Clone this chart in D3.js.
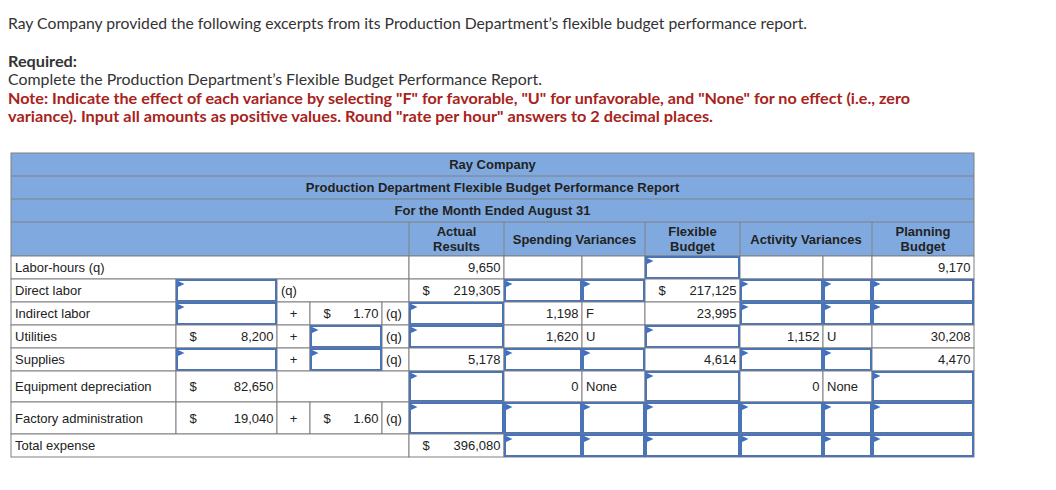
<!DOCTYPE html>
<meta charset="utf-8">
<script src="https://d3js.org/d3.v7.min.js"></script>
<style>
    body { margin: 0; background: #fff; }
    text { font-family: "Liberation Sans", Arial, sans-serif; fill: #222; }
    .intro { font-family: Lato, "Open Sans", sans-serif; font-size: 15.7px; fill: #333; }
    .note { font-weight: bold; font-size: 16px; fill: #a8231c; }
    .head { font-weight: bold; font-size: 13px; }
    .cell { font-size: 13px; }
</style>
<div id="report"></div>
<script>
// ---- data ----
var rowLabels = ["Labor-hours (q)", "Direct labor", "Indirect labor", "Utilities", "Supplies",
                 "Equipment depreciation", "Factory administration", "Total expense"];
// null = answer box, "" = not used
var fixedCost      = ["", null, null, 8200, null, 82650, 19040, ""];
var perHour        = [false, true, true, true, true, false, true, false];
var variableRate   = ["", "", 1.70, null, null, "", 1.60, ""];
var actualResults  = [9650, 219305, null, null, 5178, null, null, 396080];
var spendingVar    = ["", null, 1198, 1620, null, 0, null, null];
var spendingEffect = ["", null, "F", "U", null, "None", null, null];
var flexibleBudget = [null, 217125, 23995, null, 4614, null, null, null];
var activityVar    = ["", null, null, 1152, null, 0, null, null];
var activityEffect = ["", null, null, "U", null, "None", null, null];
var planningBudget = [9170, null, null, 30208, 4470, null, null, null];
var dollarRows     = [1, 7];

var titleLines = ["Ray Company", "Production Department Flexible Budget Performance Report", "For the Month Ended August 31"];
var colHeads = [["Actual", "Results"], ["Spending Variances"], ["Flexible", "Budget"], ["Activity Variances"], ["Planning", "Budget"]];

// ---- layout ----
var colEdges = [11, 176, 277, 310, 382, 409, 504, 582, 645, 740, 823, 872, 974];
var headEdges = [153, 176, 199, 222, 256];
var rowEdges = [256, 279, 302, 325, 348, 371, 402, 434, 457];
var headSpans = [[5, 6], [6, 8], [8, 9], [9, 11], [11, 12]];

var grid = "#808080", blue = "#4a74b6", headFill = "#80aadf";

var svg = d3.select("#report").append("svg")
    .attr("width", 1056).attr("height", 490);

// intro text (widths fitted to the reference)
var introLines = [
    {y: 29, w: 799, cls: "intro", t: "Ray Company provided the following excerpts from its Production Department\u2019s flexible budget performance report."},
    {y: 67, w: 69, cls: "intro", bold: true, t: "Required:"},
    {y: 85, w: 534, cls: "intro", t: "Complete the Production Department\u2019s Flexible Budget Performance Report."},
    {y: 104, w: 902, cls: "intro note", t: "Note: Indicate the effect of each variance by selecting \"F\" for favorable, \"U\" for unfavorable, and \"None\" for no effect (i.e., zero"},
    {y: 122, w: 705, cls: "intro note", t: "variance). Input all amounts as positive values. Round \"rate per hour\" answers to 2 decimal places."}
];
svg.append("g").selectAll("text").data(introLines).join("text")
    .attr("class", d => d.cls).attr("x", 8).attr("y", d => d.y)
    .style("font-weight", d => d.bold ? "bold" : null)
    .attr("textLength", d => d.w).attr("lengthAdjust", "spacingAndGlyphs")
    .text(d => d.t);

var x = function(i) { return colEdges[i]; };
var fmt = d3.format(","), fmtRate = d3.format(".2f");

// header block
var head = svg.append("g");
head.append("rect").attr("x", x(0)).attr("y", headEdges[0])
    .attr("width", x(12) - x(0)).attr("height", headEdges[4] - headEdges[0])
    .attr("fill", headFill).attr("stroke", grid);
head.selectAll("line.h").data(headEdges.slice(1, 4)).join("line")
    .attr("x1", x(0)).attr("x2", x(12)).attr("y1", d => d).attr("y2", d => d).attr("stroke", grid);
head.selectAll("line.v").data([5, 6, 8, 9, 11]).join("line")
    .attr("x1", d => x(d)).attr("x2", d => x(d)).attr("y1", headEdges[3]).attr("y2", headEdges[4]).attr("stroke", grid);
head.selectAll("text.t").data(titleLines).join("text").attr("class", "head")
    .attr("x", (x(0) + x(12)) / 2).attr("y", (d, i) => (headEdges[i] + headEdges[i + 1]) / 2 + 4.5)
    .attr("text-anchor", "middle").text(d => d);
colHeads.forEach(function(lines, k) {
    var cx = (x(headSpans[k][0]) + x(headSpans[k][1])) / 2,
        cy = (headEdges[3] + headEdges[4]) / 2;
    lines.forEach(function(s, j) {
        head.append("text").attr("class", "head").attr("text-anchor", "middle")
            .attr("x", cx).attr("y", cy + 4.5 + (j - (lines.length - 1) / 2) * 15).text(s);
    });
});

// build body cells from the data arrays
function cellsFor(r) {
    var c = [];
    var dollar = dollarRows.indexOf(r) >= 0;
    if (fixedCost[r] === "" && !perHour[r]) {
        c.push({a: 0, b: 5, label: rowLabels[r]});
    } else {
        c.push({a: 0, b: 1, label: rowLabels[r]});
        c.push(fixedCost[r] === null ? {a: 1, b: 2, input: true} : {a: 1, b: 2, val: fmt(fixedCost[r]), dollar: true});
        if (!perHour[r]) {
            c.push({a: 2, b: 5});
        } else if (variableRate[r] === "") {
            c.push({a: 2, b: 5, left: "(q)"});
        } else {
            c.push({a: 2, b: 3, center: "+"});
            c.push(variableRate[r] === null ? {a: 3, b: 4, input: true} : {a: 3, b: 4, val: fmtRate(variableRate[r]), dollar: true});
            c.push({a: 4, b: 5, left: "(q)"});
        }
    }
    function num(v, a, useDollar) {
        if (v === null) return {a: a, b: a + 1, input: true};
        if (v === "") return {a: a, b: a + 1};
        return {a: a, b: a + 1, val: fmt(v), dollar: useDollar};
    }
    function eff(v, a) {
        if (v === null) return {a: a, b: a + 1, input: true};
        return {a: a, b: a + 1, left: v};
    }
    c.push(num(actualResults[r], 5, dollar));
    c.push(num(spendingVar[r], 6, false));
    c.push(eff(spendingEffect[r], 7));
    c.push(num(flexibleBudget[r], 8, dollar));
    c.push(num(activityVar[r], 9, false));
    c.push(eff(activityEffect[r], 10));
    c.push(num(planningBudget[r], 11, false));
    return c;
}

var body = svg.append("g");
rowLabels.forEach(function(lbl, r) {
    var y0 = rowEdges[r], y1 = rowEdges[r + 1], ty = (y0 + y1) / 2 + 4.5;
    var g = body.append("g");
    var cells = cellsFor(r);
    g.selectAll("rect.cell").data(cells).join("rect")
        .attr("x", d => x(d.a)).attr("y", y0)
        .attr("width", d => x(d.b) - x(d.a)).attr("height", y1 - y0)
        .attr("fill", "#fff").attr("stroke", grid);
    cells.forEach(function(d) {
        var x0 = x(d.a), x1 = x(d.b);
        if (d.label) g.append("text").attr("class", "cell").attr("x", x0 + 4).attr("y", ty).text(d.label);
        if (d.left) g.append("text").attr("class", "cell").attr("x", x0 + 4).attr("y", ty).text(d.left);
        if (d.center) g.append("text").attr("class", "cell").attr("x", (x0 + x1) / 2).attr("y", ty)
            .attr("text-anchor", "middle").text(d.center);
        if (d.val) {
            g.append("text").attr("class", "cell").attr("x", x1 - 3.5).attr("y", ty)
                .attr("text-anchor", "end").text(d.val);
            if (d.dollar) g.append("text").attr("class", "cell").attr("x", x0 + 13.5).attr("y", ty).text("$");
        }
        if (d.input) {
            g.append("rect").attr("x", x0 + 1).attr("y", y0 + 1)
                .attr("width", x1 - x0 - 2).attr("height", y1 - y0 - 2)
                .attr("fill", "#fff").attr("stroke", blue).attr("stroke-width", 2);
            g.append("path").attr("d", "M" + (x0 + 2) + "," + (y0 + 2) + "l6.5,3l-6.5,3z").attr("fill", "#3f6fc4");
        }
    });
});
</script>
